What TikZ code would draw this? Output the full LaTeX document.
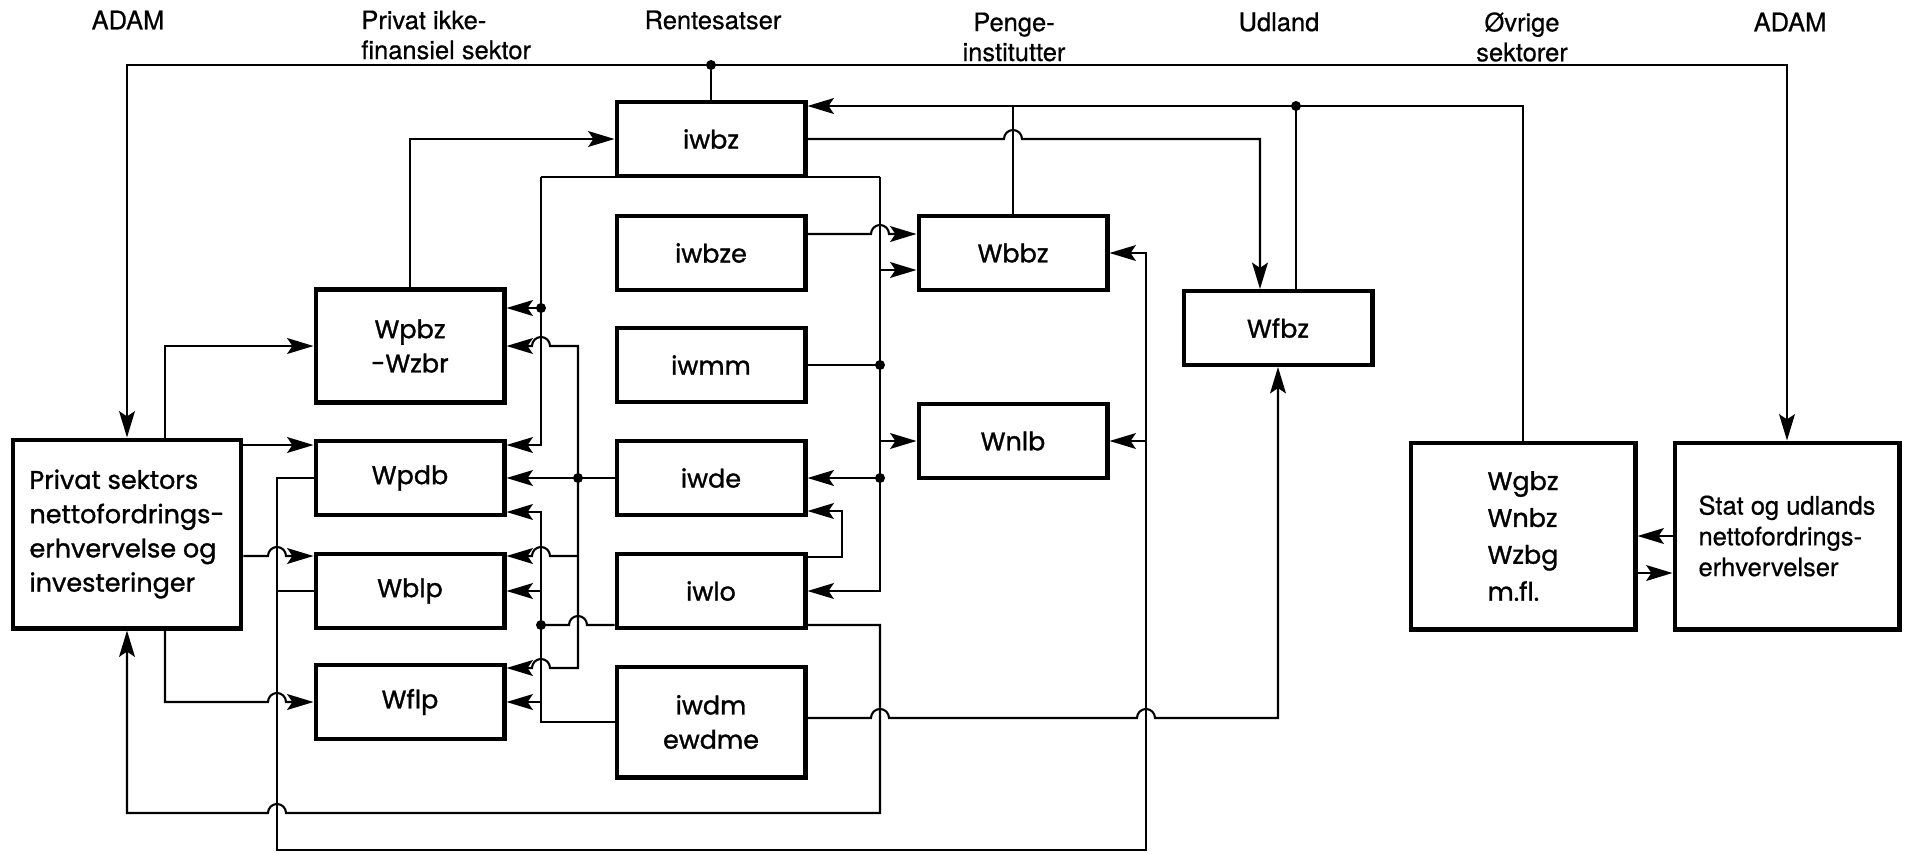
\documentclass[tikz,border=0pt]{standalone}
\usepackage{fontspec}
\setmainfont{TeX Gyre Heros}[FakeBold=0.6]
\newfontfamily\boxfont{Poppins}[FakeBold=1.2]
\newfontfamily\hdfont{TeX Gyre Heros}[FakeBold=0.6]
\usetikzlibrary{arrows.meta}

% hop over a vertical line, going right / going left
\newcommand\hopR[2]{-- (#1-9,#2) arc[start angle=180,end angle=360,radius=9]}
\newcommand\hopL[2]{-- (#1+9,#2) arc[start angle=0,end angle=-180,radius=9]}

\begin{document}
\begin{tikzpicture}[
      x=0.02cm, y=-0.02cm,
      boks/.style={draw, line width=2.3pt, align=center, inner sep=0pt,
                   font=\boxfont\fontsize{14.5}{19.5}\selectfont,
                   minimum width=3.78cm, minimum height=1.48cm},
      hoved/.style={align=center, inner sep=0pt,
                    font=\hdfont\fontsize{14.5}{17}\selectfont},
      lin/.style={line width=1.2pt},
      pil/.style={lin, -{Stealth[length=15pt,width=9pt,inset=3pt]}}
    ]
    \useasboundingbox (0,0) rectangle (1908,853);

    % headers
    \node[hoved] (adamV) at (128,20) {ADAM};
    \node[hoved, align=left, anchor=west] (privhd) at (361,35) {Privat ikke-\\finansiel sektor};
    \node[hoved] (rente) at (713,20) {Rentesatser};
    \node[hoved] (penge) at (1014,37) {Penge-\\institutter};
    \node[hoved] (udland) at (1279,22) {Udland};
    \node[hoved] (ovrige) at (1522,37) {Øvrige\\sektorer};
    \node[hoved] (adamH) at (1790,22) {ADAM};

    % boxes
    \node[boks, minimum width=4.58cm, minimum height=3.78cm, align=left] (privat) at (127,534)
         {Privat sektors\\nettofordrings-\\erhvervelse og\\investeringer};
    \node[boks, minimum height=2.26cm] (wpbz) at (410,346) {Wpbz\\-Wzbr};
    \node[boks] (wpdb)  at (410,478) {Wpdb};
    \node[boks] (wblp)  at (410,591) {Wblp};
    \node[boks] (wflp)  at (410,702) {Wflp};
    \node[boks] (iwbz)  at (711,139) {iwbz};
    \node[boks] (iwbze) at (711,253) {iwbze};
    \node[boks] (iwmm)  at (711,365) {iwmm};
    \node[boks] (iwde)  at (711,478) {iwde};
    \node[boks] (iwlo)  at (711,591) {iwlo};
    \node[boks, minimum height=2.22cm] (iwdm) at (711,722) {iwdm\\ewdme};
    \node[boks] (wbbz)  at (1013,253) {Wbbz};
    \node[boks] (wnlb)  at (1013,441) {Wnlb};
    \node[boks] (wfbz)  at (1278,328) {Wfbz};
    \node[boks, minimum width=4.5cm, minimum height=3.74cm, align=left,
          font=\boxfont\fontsize{14.5}{21}\selectfont] (wgbz) at (1523,536) {Wgbz\\Wnbz\\Wzbg\\m.fl.};
    \node[boks, minimum width=4.5cm, minimum height=3.74cm, align=left,
          font=\hdfont\fontsize{14.5}{17.5}\selectfont] (stat) at (1787,536)
         {Stat og udlands\\nettofordrings-\\erhvervelser};

    % ADAM
    \coordinate (adam) at (711,65);
    \draw[lin] (iwbz.north) -- (adam);
    \draw[pil] (adam) -| (privat.north);
    \draw[pil] (adam) -| (stat.north);
    \fill (adam) circle[radius=5];

    % return line into iwbz
    \draw[pil] (wgbz.north) |- (iwbz.east |- 0,106);
    \draw[lin] (wfbz.north -| 1296,0) -- (1296,106);
    \fill (1296,106) circle[radius=5];
    \draw[lin] (wbbz.north) -- (1013,106);

    % iwbz -> Wfbz
    \draw[pil] (iwbz.east) \hopR{1013}{139} -- (1260,139) -- (wfbz.north -| 1260,0);

    % Wpbz -> iwbz
    \draw[pil] (wpbz.north) |- (iwbz.west);

    % iwbz bus
    \draw[lin] (541,177) -- (880,177);
    \draw[pil] (541,177) |- (wpdb.east |- 0,445);
    \draw[pil] (541,308) -- (wpbz.east |- 0,308);
    \fill (541,308) circle[radius=5];
    \draw[pil] (880,177) |- (iwlo.east);
    \draw[pil] (880,270) -- (wbbz.west |- 0,270);
    \draw[lin] (iwmm.east) -- (880,365);
    \fill (880,365) circle[radius=5];
    \draw[pil] (880,441) -- (wnlb.west);
    \draw[pil] (880,478) -- (iwde.east);
    \fill (880,478) circle[radius=5];

    % iwbze -> Wbbz
    \draw[pil] (iwbze.east |- 0,234) \hopR{880}{234} -- (wbbz.west |- 0,234);

    % Wpdb, Wblp -> Wbbz, Wnlb
    \draw[pil] (wpdb.west) -- (277,478) -- (277,850) -- (1146,850) |- (wbbz.east);
    \draw[lin] (wblp.west) -- (277,591);
    \draw[pil] (1146,441) -- (wnlb.east);

    % from Privat sektor
    \draw[pil] (privat.north -| 165,0) |- (wpbz.west);
    \draw[pil] (privat.east |- 0,445) -- (wpdb.west |- 0,445);
    \draw[pil] (privat.east |- 0,556) \hopR{277}{556} -- (wblp.west |- 0,556);
    \draw[pil] (privat.south -| 165,0) -- (165,702) \hopR{277}{702} -- (wflp.west);

    % iwlo -> Privat sektor, iwde
    \draw[pil] (iwlo.east |- 0,625) -- (880,625) -- (880,813) \hopL{277}{813} -| (privat.south);
    \draw[pil] (iwlo.east |- 0,557) -- (842,557) |- (iwde.east |- 0,511);

    % iwdm -> Wfbz
    \draw[pil] (iwdm.east |- 0,718) \hopR{880}{718} \hopR{1146}{718} -| (wfbz.south);

    % iwde bus
    \draw[pil] (iwde.west) -- (wpdb.east);
    \fill (578,478) circle[radius=5];
    \draw[pil] (578,478) -- (578,346) \hopL{541}{346} -- (wpbz.east);
    \draw[pil] (578,478) -- (578,668) \hopL{541}{668} -- (wflp.east |- 0,668);
    \draw[pil] (578,556) \hopL{541}{556} -- (wblp.east |- 0,556);

    % iwlo, iwdm bus
    \draw[pil] (iwdm.west) -| (541,512) -- (wpdb.east |- 0,512);
    \draw[pil] (541,591) -- (wblp.east);
    \draw[pil] (541,702) -- (wflp.east);
    \draw[lin] (iwlo.west |- 0,625) \hopL{578}{625} -- (541,625);
    \fill (541,625) circle[radius=5];

    % Stat og udland <-> Wgbz
    \draw[pil] (stat.west |- 0,536) -- (wgbz.east |- 0,536);
    \draw[pil] (wgbz.east |- 0,573) -- (stat.west |- 0,573);
  \end{tikzpicture}
\end{document}
